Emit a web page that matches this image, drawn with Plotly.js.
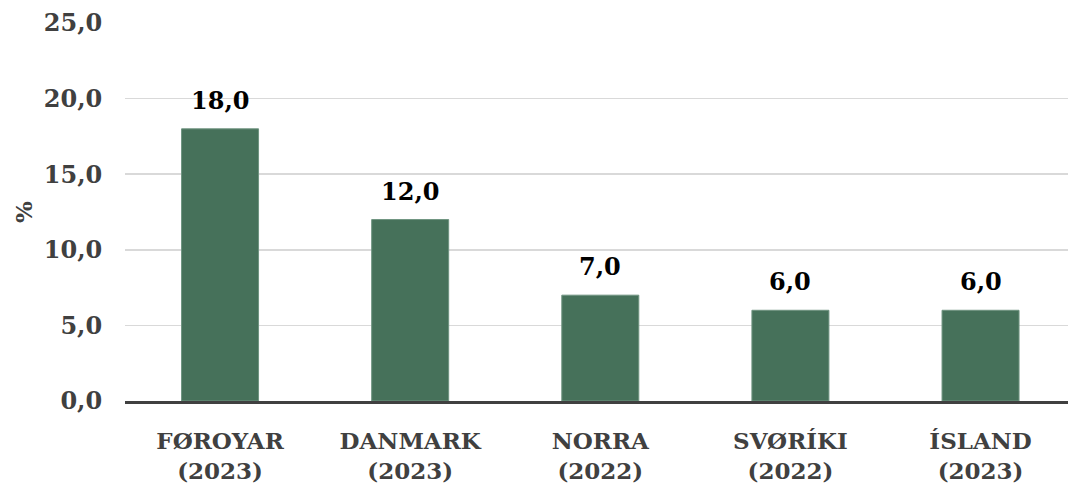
<!DOCTYPE html>
<html>
<head>
<meta charset="utf-8">
<script src="https://cdn.plot.ly/plotly-3.0.1.min.js"></script>
<style>
html,body{margin:0;padding:0;background:#fff;}
#chart{width:1068px;height:486px;}
</style>
</head>
<body>
<div id="chart"></div>
<script>
const categories = ["FØROYAR<br>(2023)", "DANMARK<br>(2023)", "NORRA<br>(2022)", "SVØRÍKI<br>(2022)", "ÍSLAND<br>(2023)"];
const values = [18.0, 12.0, 7.0, 6.0, 6.0];
const yTicks = [0, 5, 10, 15, 20, 25];

const FONT = "DejaVu Serif, Liberation Serif, serif";

const trace = {
  type: "bar",
  x: categories,
  y: values,
  width: 0.405,
  marker: {color: "#46715a", line: {color: "#6f9480", width: 1}},
  hoverinfo: "none"
};

const annotations = categories.map((c, i) => ({
  x: c,
  y: values[i],
  xref: "x",
  yref: "y",
  text: "<b>" + values[i].toFixed(1).replace(".", ",") + "</b>",
  showarrow: false,
  yanchor: "bottom",
  yshift: 12,
  font: {family: FONT, size: 24, color: "#000000"}
}));

const layout = {
  width: 1068,
  height: 486,
  margin: {l: 125, r: 0, t: 23, b: 85},
  separators: ",.",
  paper_bgcolor: "#ffffff",
  plot_bgcolor: "#ffffff",
  showlegend: false,
  annotations: annotations,
  xaxis: {
    type: "category",
    range: [-0.5, 4.46],
    showline: true,
    linecolor: "#404040",
    linewidth: 3,
    showgrid: false,
    ticks: "outside",
    ticklen: 17,
    tickcolor: "rgba(0,0,0,0)",
    tickfont: {family: FONT, size: 23, color: "#404040", weight: "bold"}
  },
  yaxis: {
    range: [0, 25],
    tickvals: yTicks,
    tickformat: ".1f",
    showgrid: true,
    gridcolor: "#d9d9d9",
    gridwidth: 1.5,
    zeroline: false,
    ticks: "outside",
    ticklen: 17,
    tickcolor: "rgba(0,0,0,0)",
    tickfont: {family: FONT, size: 24, color: "#404040", weight: "bold"},
    title: {text: "<b>%</b>", font: {family: FONT, size: 23, color: "#404040"}, standoff: 4}
  }
};

Plotly.newPlot("chart", [trace], layout, {displayModeBar: false, staticPlot: true});
</script>
</body>
</html>
